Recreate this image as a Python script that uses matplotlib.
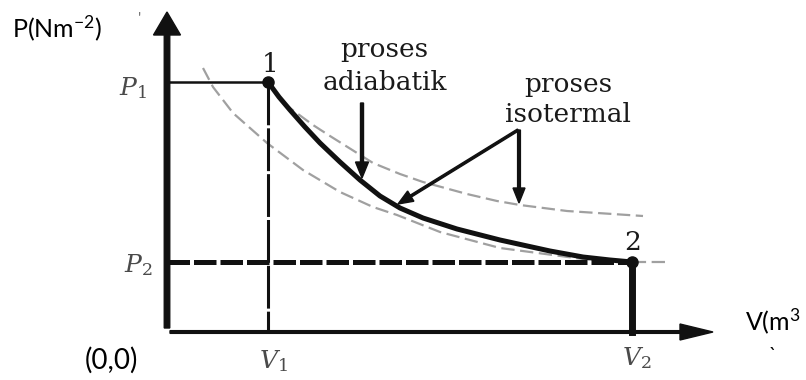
import numpy as np
import matplotlib
matplotlib.use("Agg")
import matplotlib.pyplot as plt

plt.rcParams['mathtext.fontset'] = 'custom'
plt.rcParams['mathtext.rm'] = 'Lato'
plt.rcParams['mathtext.it'] = 'Lato:italic'

# state points (schematic units, origin at the axes corner)
V1, V2 = 101, 465
P1, P2 = 250, 70

# adiabatic expansion 1 -> 2
adiabat_v = [101, 112, 123, 138, 153, 173, 193, 213, 233, 256, 290, 333, 383, 416, 443, 465]
adiabat_p = [250, 235, 222, 205, 189, 170, 152, 136, 124, 114, 103, 92, 81, 75, 72, 70]

# isotherm through point 2 (lower one)
iso_low_v = [36, 46, 66, 100, 136, 173, 206, 230, 273, 333, 416, 465, 498]
iso_low_p = [264, 245, 219, 189, 162, 140, 125, 117, 100, 84, 73, 70, 70]

# isotherm through point 1 (upper one)
iso_up_v = [116, 146, 163, 206, 233, 256, 300, 330, 353, 400, 476]
iso_up_p = [229, 207, 196, 169, 158, 150, 138, 131, 127, 121, 116]

fig = plt.figure(figsize=(8.06, 3.80), dpi=100)
ax = fig.add_axes([0, 0, 1, 1])
ax.set_xlim(-167, 639)
ax.set_ylim(-48, 332)
ax.axis('off')

# axes with arrows
ax.arrow(0, 4, 0, 316, width=5.5, head_width=27, head_length=23,
         length_includes_head=True, color='#111111', zorder=5)
ax.arrow(3, 0, 543, 0, width=2.7, head_width=16, head_length=33,
         length_includes_head=True, color='#111111', zorder=5)

# isotherms (grey dashed)
ax.plot(iso_low_v, iso_low_p, color='#a0a0a0', lw=1.6, ls=(0, (6, 2.5)), zorder=2)
ax.plot(iso_up_v, iso_up_p, color='#a0a0a0', lw=1.6, ls=(0, (6, 2.5)), zorder=2)

# guide lines
ax.plot([0, V1], [P1, P1], color='#111111', lw=1.8, zorder=3)
ax.plot([V1, V1], [P1, 0], color='#111111', lw=2.2, ls=(0, (14, 1)), zorder=3)
ax.plot([0, V2], [P2, P2], color='#111111', lw=3.6, ls=(0, (4.5, 0.8)), zorder=3)
ax.plot([V2, V2], [P2, 0], color='#111111', lw=5, zorder=3)

# adiabat
ax.plot(adiabat_v, adiabat_p, color='#111111', lw=3.6, solid_capstyle='round',
        solid_joinstyle='round', zorder=4)
ax.plot([V1, V2], [P1, P2], 'o', color='#111111', ms=8, zorder=6)

# pointer arrows
ax.arrow(195, 229, 0, -75, width=3, head_width=13, head_length=16,
         length_includes_head=True, color='#111111', zorder=6)
ax.arrow(351, 202, -120, -74, width=2.2, head_width=12, head_length=15,
         length_includes_head=True, color='#111111', zorder=6)
ax.arrow(352, 202, 0, -73, width=2.8, head_width=12, head_length=15,
         length_includes_head=True, color='#111111', zorder=6)

serif = dict(family='DejaVu Serif', color='#1a1a1a', fontsize=19)
ax.text(217, 275, 'proses', ha='center', va='baseline', **serif)
ax.text(218, 242, 'adiabatik', ha='center', va='baseline', **serif)
ax.text(401, 240, 'proses', ha='center', va='baseline', **serif)
ax.text(401, 210, 'isotermal', ha='center', va='baseline', **serif)
ax.text(103, 268, '1', ha='center', va='center', **serif)
ax.text(466, 89, '2', ha='center', va='center', **serif)

lab = dict(color='#4a4a4a', fontsize=18, math_fontfamily='dejavuserif')
ax.text(-20, 237, r'$P_1$', ha='right', va='baseline', **lab)
ax.text(-14, 60, r'$P_2$', ha='right', va='baseline', **lab)
ax.text(106, -16, r'$V_1$', ha='center', va='top', **lab)
ax.text(470, -13, r'$V_2$', ha='center', va='top', **lab)

sans = dict(family='Lato', color='black', fontsize=18)
ax.text(-155, 295, r'P(Nm$^{\mathrm{-2}}$)', ha='left', va='baseline', **sans)
ax.text(-56, -28, '(0,0)', ha='center', va='center', family='Lato',
        color='black', fontsize=20)
ax.text(578, 2, r'V(m$^{3}$', ha='left', va='baseline', **sans)
ax.text(606, -24, '`', ha='center', va='center', family='Lato', fontsize=14)
ax.text(-27, 312, "'", ha='center', va='center', family='Lato', fontsize=12,
        color='#777777')

fig.savefig('out.png', dpi=100)
